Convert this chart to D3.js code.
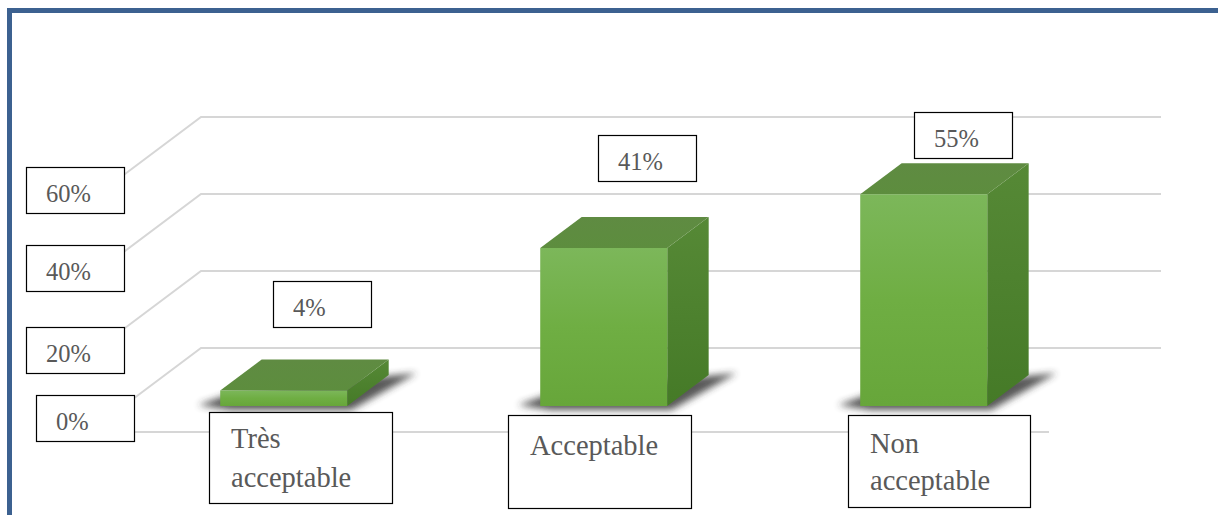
<!DOCTYPE html>
<html>
<head>
<meta charset="utf-8">
<script src="https://cdn.jsdelivr.net/npm/d3@7"></script>
<style>
  html, body { margin: 0; padding: 0; background: #ffffff; }
  svg { display: block; }
</style>
</head>
<body>
<svg id="chart" width="1218" height="515"></svg>
<script>
// ---- data ----
const categories = ["Très acceptable", "Acceptable", "Non acceptable"];
const categoryLines = [["Très", "acceptable"], ["Acceptable"], ["Non", "acceptable"]];
const values = [4, 41, 55];           // percent
const tickValues = [0, 20, 40, 60];   // percent

// ---- layout ----
const DEPTH = { dx: 112, dy: -84 };   // oblique offset from front plane to back wall
const BAR_Z = [0.31, 0.68];           // bar depth slice (0 = front, 1 = back)
const BAR_W = 127;

// text boxes laid over the chart
const tickBoxes = [
  { x: 36, dy: -37 }, { x: 26, dy: -28 }, { x: 26, dy: -33 }, { x: 26, dy: -34 }
];
const valueBoxes = [ { x: 273, y: 281 }, { x: 598, y: 135 }, { x: 914, y: 112 } ];
const categoryBoxes = [
  { x: 209, y: 412, w: 183, h: 91, base: [36, 75] },
  { x: 508, y: 415, w: 183, h: 93, base: [40] },
  { x: 848, y: 415, w: 182, h: 92, base: [38, 75] }
];

const svg = d3.select("#chart");
const defs = svg.append("defs");

const x = d3.scaleBand().domain(categories).range([89, 1049]).paddingInner(0).paddingOuter(0);
const y = d3.scaleLinear().domain([0, 60]).range([432, 201]);

const proj = (xf, v, z) => [xf + z * DEPTH.dx, y(v) + z * DEPTH.dy];

// ---- gradients & filters ----
function linGrad(id, x1, y1, x2, y2, stops) {
  const g = defs.append("linearGradient").attr("id", id)
    .attr("x1", x1).attr("y1", y1).attr("x2", x2).attr("y2", y2);
  stops.forEach(s => g.append("stop").attr("offset", s[0]).attr("stop-color", s[1]));
}
linGrad("gFront", 0, 0, 0, 1, [[0, "#7cb75a"], [0.5, "#6fae43"], [1, "#67a63a"]]);
linGrad("gTop", 0, 1, 0, 0, [[0, "#5d8d3e"], [1, "#5f8b42"]]);
linGrad("gSide", 0, 0, 0, 1, [[0, "#568936"], [1, "#457a27"]]);

const blur = defs.append("filter").attr("id", "shadowBlur")
  .attr("x", "-30%").attr("y", "-60%").attr("width", "160%").attr("height", "220%");
blur.append("feGaussianBlur").attr("stdDeviation", 3.5);

const soft = defs.append("filter").attr("id", "lineSoft")
  .attr("x", "-5%").attr("y", "-50%").attr("width", "110%").attr("height", "200%");
soft.append("feGaussianBlur").attr("stdDeviation", 0.4);

// ---- frame ----
svg.append("rect")
  .attr("x", 9.5).attr("y", 10.5).attr("width", 1400).attr("height", 700)
  .attr("fill", "#ffffff").attr("stroke", "#3c6190").attr("stroke-width", 5);

// ---- walls: gridlines ----
const grid = svg.append("g").attr("stroke", "#d6d6d6").attr("stroke-width", 2)
  .attr("fill", "none").attr("filter", "url(#lineSoft)");
const x0 = x.range()[0], x1 = x.range()[1];
tickValues.forEach(v => {
  const f = proj(x0, v, 0), b = proj(x0, v, 1), e = proj(x1, v, 1);
  grid.append("path").attr("d", d3.line()([f, b, e]));
});
// front edge of the floor
grid.append("path").attr("d", d3.line()([proj(x0, 0, 0), proj(x1, 0, 0)]));

// ---- bars ----
const bars = svg.append("g");
categories.forEach((c, i) => {
  const v = values[i];
  const cx = x(c) + x.bandwidth() / 2;
  const L = cx - BAR_W / 2, R = cx + BAR_W / 2;
  const [za, zb] = BAR_Z;
  const g = bars.append("g");

  // floor shadow
  const fl = proj(L, 0, za), fr = proj(R, 0, za), br = proj(R, 0, zb);
  g.append("path")
    .attr("d", d3.line()([[fl[0] - 22, fl[1] - 1], [fl[0] + 10, fl[1] + 4],
                          [fr[0] + 4, fr[1] + 4],
                          [br[0] + 28, br[1] - 2], [br[0] - 10, br[1] + 2],
                          [fl[0] + 10, fl[1] - 12]]) + "Z")
    .attr("fill", "#2e2e2e").attr("opacity", 0.8).attr("filter", "url(#shadowBlur)");

  // side face
  g.append("path")
    .attr("d", d3.line()([proj(R, 0, za), proj(R, v, za), proj(R, v, zb), proj(R, 0, zb)]) + "Z")
    .attr("fill", "url(#gSide)");
  // top face
  g.append("path")
    .attr("d", d3.line()([proj(L, v, za), proj(R, v, za), proj(R, v, zb), proj(L, v, zb)]) + "Z")
    .attr("fill", "url(#gTop)");
  // front face
  g.append("path")
    .attr("d", d3.line()([proj(L, 0, za), proj(R, 0, za), proj(R, v, za), proj(L, v, za)]) + "Z")
    .attr("fill", "url(#gFront)");
});

// ---- text boxes ----
const FONT = "'Liberation Serif', 'Times New Roman', serif";
const TEXT_COL = "#595959";

function box(g, bx, by, bw, bh) {
  g.append("rect").attr("x", bx + 0.5).attr("y", by + 0.5).attr("width", bw).attr("height", bh)
    .attr("fill", "#ffffff").attr("stroke", "#000000").attr("stroke-width", 1.2);
}

const labels = svg.append("g");

// axis tick labels
tickValues.forEach((v, i) => {
  const t = tickBoxes[i];
  const by = Math.round(y(v) + t.dy);
  box(labels, t.x, by, 98, 46);
  labels.append("text").attr("x", t.x + 20).attr("y", by + 35)
    .attr("font-family", FONT).attr("font-size", 24.5).attr("fill", TEXT_COL)
    .text(v + "%");
});

// value labels
values.forEach((v, i) => {
  const b = valueBoxes[i];
  box(labels, b.x, b.y, 98, 46);
  labels.append("text").attr("x", b.x + 20).attr("y", b.y + 35)
    .attr("font-family", FONT).attr("font-size", 24.5).attr("fill", TEXT_COL)
    .text(v + "%");
});

// category labels
categories.forEach((c, i) => {
  const b = categoryBoxes[i];
  box(labels, b.x, b.y, b.w, b.h);
  categoryLines[i].forEach((ln, j) => {
    labels.append("text").attr("x", b.x + 22).attr("y", b.y + b.base[j])
      .attr("font-family", FONT).attr("font-size", 28.5).attr("fill", TEXT_COL)
      .text(ln);
  });
});
</script>
</body>
</html>
